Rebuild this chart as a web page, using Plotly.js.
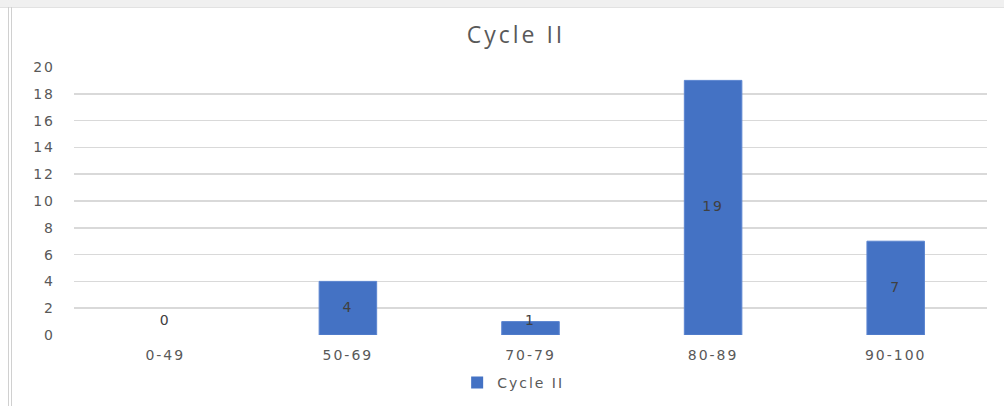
<!DOCTYPE html>
<html>
<head>
<meta charset="utf-8">
<script src="https://cdn.plot.ly/plotly-3.0.1.min.js"></script>
<style>
  html, body { margin:0; padding:0; background:#fff; }
  #wrap { position:relative; width:1004px; height:406px; overflow:hidden; }
  #topband { position:absolute; left:0; top:0; width:1004px; height:7px; background:#f0f0f0; border-bottom:1px solid #e2e2e2; }
  #leftline { position:absolute; left:8px; top:7px; width:2px; height:399px; border-left:1px solid #d0d0d0; border-right:1px solid #d0d0d0; }
  #chart { position:absolute; left:0; top:0; width:1004px; height:406px; }
  .xtick text, .ytick text, .textpoint text, .legendtext { letter-spacing: 2px; }
  .gtitle { letter-spacing: 3px; }
</style>
</head>
<body>
<div id="wrap">
  <div id="chart"></div>
  <div id="topband"></div>
  <div id="leftline"></div>
</div>
<script>
const categories = ["0-49", "50-69", "70-79", "80-89", "90-100"];
const cycleII = [0, 4, 1, 19, 7];
const seriesName = "Cycle II";
const chartTitle = "Cycle II";
const yTicks = [0, 2, 4, 6, 8, 10, 12, 14, 16, 18, 20];

const labelY = cycleII.map(v => Math.max(v / 2, 1));

const barTrace = {
  type: "bar",
  x: categories,
  y: cycleII,
  name: seriesName,
  marker: { color: "#4472c4", line: { color: "#5b85d0", width: cycleII.map(v => v > 0 ? 1 : 0) } },
  hoverinfo: "none"
};
const labelTrace = {
  type: "scatter",
  mode: "text",
  x: categories,
  y: labelY,
  text: cycleII.map(String),
  textposition: "middle center",
  textfont: { family: "DejaVu Sans, sans-serif", size: 14, color: "#404040" },
  showlegend: false,
  hoverinfo: "none"
};

const layout = {
  width: 1004,
  height: 406,
  paper_bgcolor: "#ffffff",
  plot_bgcolor: "#ffffff",
  margin: { l: 74, r: 17, t: 67, b: 71, autoexpand: false },
  title: {
    text: chartTitle,
    font: { family: "Open Sans, sans-serif", size: 23, color: "#595959" },
    x: 516/1004, xanchor: "center",
    y: 1 - 35/406, yanchor: "middle"
  },
  bargap: 0.685,
  xaxis: {
    type: "category",
    range: [-0.5, 4.5],
    automargin: false,
    showgrid: false,
    zeroline: false,
    showline: false,
    ticks: "",
    tickfont: { family: "DejaVu Sans, sans-serif", size: 14, color: "#595959" },
    ticklabelstandoff: 10,
    fixedrange: true
  },
  yaxis: {
    range: [0, 20],
    automargin: false,
    tickvals: yTicks,
    ticktext: yTicks.map(String),
    showgrid: true,
    gridcolor: "#d9d9d9",
    gridwidth: 1.5,
    zeroline: false,
    showline: false,
    ticks: "",
    tickfont: { family: "DejaVu Sans, sans-serif", size: 14, color: "#595959" },
    ticklabelstandoff: 18,
    fixedrange: true
  },
  showlegend: true,
  legend: {
    orientation: "h",
    x: 0.481, xanchor: "center",
    y: -48/268, yanchor: "middle",
    font: { family: "DejaVu Sans, sans-serif", size: 14, color: "#595959" },
    itemwidth: 30
  }
};

Plotly.newPlot("chart", [barTrace, labelTrace], layout, { displayModeBar: false, staticPlot: true });
</script>
</body>
</html>
